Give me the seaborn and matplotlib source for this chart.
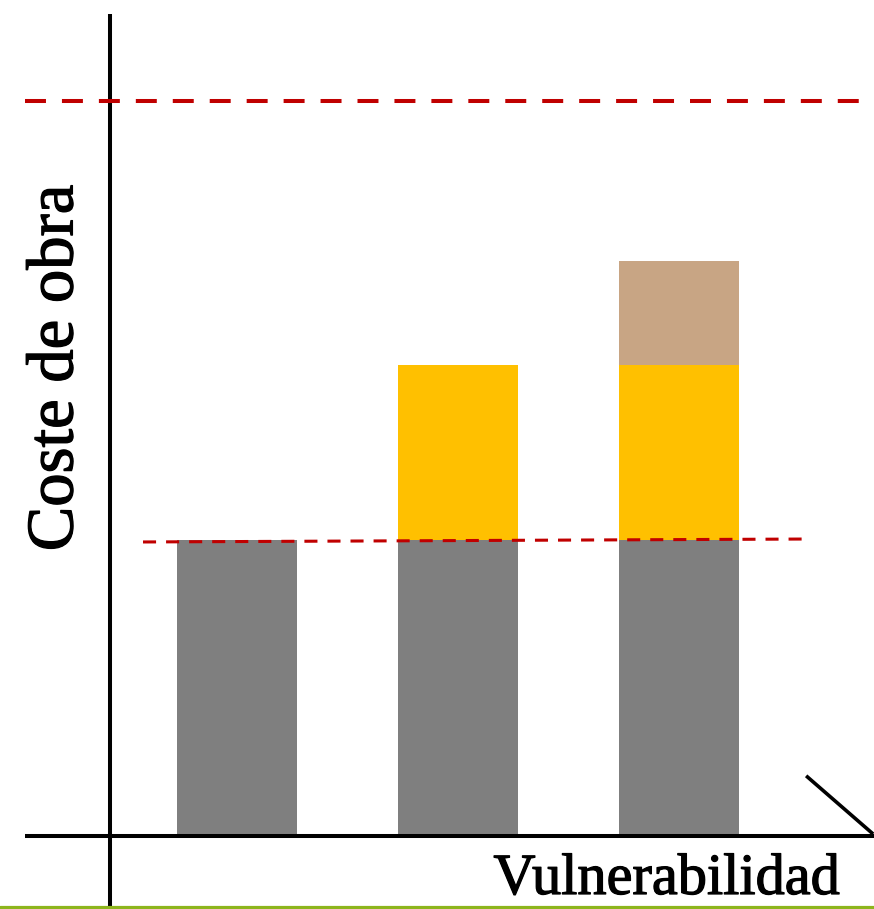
import matplotlib
matplotlib.use("Agg")
import matplotlib.pyplot as plt
import matplotlib.patheffects as pe
import seaborn as sns
import pandas as pd

# Categories along the vulnerability axis and the stacked cost layers
categories = ["Baja", "Media", "Alta"]
coste_base = [3.0, 3.0, 3.0]
coste_medio = [0.0, 1.77, 1.77]
coste_alto = [0.0, 0.0, 1.06]
limite_maximo = 7.45

color_base = "#7F7F7F"
color_medio = "#FFC000"
color_alto = "#C8A584"
color_rojo = "#C00000"

sns.set_theme(style="white")
plt.rcParams["lines.scale_dashes"] = False
plt.rcParams["font.family"] = ["Liberation Serif", "DejaVu Serif"]

df = pd.DataFrame({
    "categoria": categories,
    "base": coste_base,
    "medio": coste_medio,
    "alto": coste_alto,
})
df["bottom_alto"] = df["base"] + df["medio"]

fig = plt.figure(figsize=(8.74, 9.09), dpi=100)
ax = fig.add_axes([0, 0, 1, 1])

bar_w = 0.543
sns.barplot(data=df, x="categoria", y="base", order=categories, color=color_base,
            width=bar_w, linewidth=0, saturation=1, ax=ax)
sns.barplot(data=df, x="categoria", y="medio", order=categories, color=color_medio,
            width=bar_w, linewidth=0, saturation=1, bottom=df["base"], ax=ax)
sns.barplot(data=df, x="categoria", y="alto", order=categories, color=color_alto,
            width=bar_w, linewidth=0, saturation=1, bottom=df["bottom_alto"], ax=ax)

ax.set_xlim(-1.072, 2.882)
ax.set_ylim(-0.740, 8.473)
for s in ax.spines.values():
    s.set_visible(False)
ax.set_xticks([])
ax.set_yticks([])
ax.set_xlabel("")
ax.set_ylabel("")

# Hand-drawn style axes
ax.plot([-0.575, -0.575], [-0.72, 8.33], color="black", lw=2.9, solid_capstyle="butt", zorder=5)
ax.plot([-0.96, 2.882], [0.0, 0.0], color="black", lw=2.9, solid_capstyle="butt", zorder=5)
ax.plot([2.575, 2.878], [0.61, 0.02], color="black", lw=2.6, solid_capstyle="butt", zorder=5)

# Reference cost limits
ax.plot([-0.96, 2.882], [limite_maximo, limite_maximo], color=color_rojo, lw=2.9,
        dashes=(15.1, 11.5), zorder=6)
base = coste_base[0]
ax.plot([-0.425, 2.593], [base - 0.02, base + 0.01], color=color_rojo, lw=2.2,
        dashes=(9.4, 7.2), zorder=6)

# Green rule along the bottom edge
fig.add_artist(plt.Line2D([0, 1], [0.0017, 0.0017], transform=fig.transFigure,
                          color="#8DB51C", lw=2.3))

heavier = [pe.withStroke(linewidth=0.9, foreground="black")]
fig.text(0.064, 0.595, "Coste de obra", rotation=90, ha="center", va="center",
         fontsize=48, color="black", path_effects=heavier)
fig.text(0.961, 0.0165, "Vulnerabilidad", ha="right", va="baseline",
         fontsize=42, color="black", path_effects=heavier)

fig.savefig("out.png", dpi=100)
